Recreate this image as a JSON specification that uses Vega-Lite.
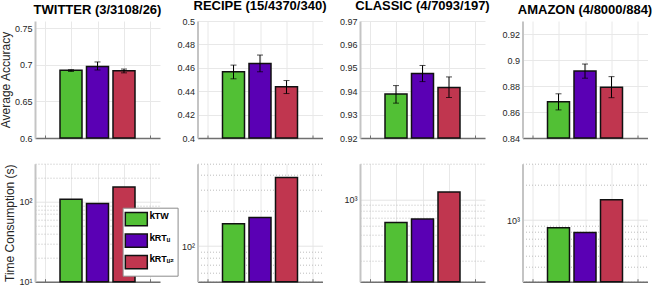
{
  "$schema": "https://vega.github.io/schema/vega-lite/v6.json",
  "padding": {"left": -1, "top": 0, "right": 0, "bottom": 0},
  "bounds": "flush",
  "columns": 4,
  "spacing": {"row": 25.7, "column": 37.5},
  "config": {
    "font": "Liberation Sans",
    "view": {"stroke": null},
    "title": {"font": "Liberation Sans", "fontSize": 13, "fontWeight": "bold", "color": "#000000", "offset": 0, "anchor": "middle"},
    "axis": {
      "labelFont": "Liberation Sans", "labelFontSize": 9, "labelColor": "#262626",
      "titleFont": "Liberation Sans", "titleFontSize": 12, "titleFontWeight": "normal", "titleColor": "#262626",
      "gridColor": "#e8e8e8", "gridWidth": 1
    },
    "axisY": {"domainColor": "#c4c4c4", "domainWidth": 2, "ticks": false, "labelPadding": 3, "titlePadding": 2, "grid": true, "labelOverlap": false, "labelFlush": false},
    "axisX": {"labels": false, "title": null, "domainColor": "#707070", "domainWidth": 1.5, "tickColor": "#707070", "tickSize": -3, "grid": true, "values": [0, 1, 2, 3, 4]},
    "bar": {"size": 22, "stroke": "#111111", "strokeWidth": 1.5}
  },
  "resolve": {"legend": {"color": "independent", "opacity": "independent"}},
  "datasets": {
    "acc": [
      {"dataset": "TWITTER", "method": "kTW", "x": 1, "mean": 0.6925, "lo": 0.6910, "hi": 0.6934},
      {"dataset": "TWITTER", "method": "kRTU", "x": 2, "mean": 0.6977, "lo": 0.6930, "hi": 0.7040},
      {"dataset": "TWITTER", "method": "kRTU2", "x": 3, "mean": 0.6921, "lo": 0.6891, "hi": 0.6943},
      {"dataset": "RECIPE", "method": "kTW", "x": 1, "mean": 0.4566, "lo": 0.4506, "hi": 0.4623},
      {"dataset": "RECIPE", "method": "kRTU", "x": 2, "mean": 0.4637, "lo": 0.4566, "hi": 0.4709},
      {"dataset": "RECIPE", "method": "kRTU2", "x": 3, "mean": 0.4437, "lo": 0.4380, "hi": 0.4491},
      {"dataset": "CLASSIC", "method": "kTW", "x": 1, "mean": 0.9388, "lo": 0.9349, "hi": 0.9424},
      {"dataset": "CLASSIC", "method": "kRTU", "x": 2, "mean": 0.9476, "lo": 0.9441, "hi": 0.9510},
      {"dataset": "CLASSIC", "method": "kRTU2", "x": 3, "mean": 0.9416, "lo": 0.9373, "hi": 0.9461},
      {"dataset": "AMAZON", "method": "kTW", "x": 1, "mean": 0.8679, "lo": 0.8616, "hi": 0.8740},
      {"dataset": "AMAZON", "method": "kRTU", "x": 2, "mean": 0.8916, "lo": 0.8860, "hi": 0.8969},
      {"dataset": "AMAZON", "method": "kRTU2", "x": 3, "mean": 0.8791, "lo": 0.8710, "hi": 0.8872}
    ],
    "time": [
      {"dataset": "TWITTER", "method": "kTW", "x": 1, "time": 108},
      {"dataset": "TWITTER", "method": "kRTU", "x": 2, "time": 95},
      {"dataset": "TWITTER", "method": "kRTU2", "x": 3, "time": 153},
      {"dataset": "RECIPE", "method": "kTW", "x": 1, "time": 155},
      {"dataset": "RECIPE", "method": "kRTU", "x": 2, "time": 175},
      {"dataset": "RECIPE", "method": "kRTU2", "x": 3, "time": 382},
      {"dataset": "CLASSIC", "method": "kTW", "x": 1, "time": 635},
      {"dataset": "CLASSIC", "method": "kRTU", "x": 2, "time": 681},
      {"dataset": "CLASSIC", "method": "kRTU2", "x": 3, "time": 1153},
      {"dataset": "AMAZON", "method": "kTW", "x": 1, "time": 861},
      {"dataset": "AMAZON", "method": "kRTU", "x": 2, "time": 785},
      {"dataset": "AMAZON", "method": "kRTU2", "x": 3, "time": 1486}
    ]
  },
  "concat": [
    {
      "width": 125, "height": 117,
      "title": "TWITTER (3/3108/26)",
      "data": {"name": "acc"},
      "transform": [{"filter": "datum.dataset === 'TWITTER'"}],
      "encoding": {
        "x": {"field": "x", "type": "quantitative", "scale": {"domain": [-0.17, 4.17]}}
      },
      "layer": [
        {"mark": "bar", "encoding": {
          "y": {"field": "mean", "type": "quantitative", "title": "Average Accuracy", "scale": {"domain": [0.6, 0.75], "zero": false}, "axis": {"values": [0.6, 0.65, 0.7, 0.75], "format": "~g"}},
          "y2": {"datum": 0.6},
          "color": {"field": "method", "type": "nominal", "scale": {"domain": ["kTW", "kRTU", "kRTU2"], "range": ["#52C035", "#5A00B4", "#C0364F"]}, "legend": null}
        }},
        {"mark": {"type": "errorbar", "ticks": {"size": 6}, "color": "#000000", "thickness": 1}, "encoding": {
          "y": {"field": "lo", "type": "quantitative", "title": "Average Accuracy", "axis": {"values": [0.6, 0.65, 0.7, 0.75], "format": "~g"}},
          "y2": {"field": "hi"}
        }}
      ]
    },
    {
      "width": 125, "height": 117,
      "title": "RECIPE (15/4370/340)",
      "data": {"name": "acc"},
      "transform": [{"filter": "datum.dataset === 'RECIPE'"}],
      "encoding": {
        "x": {"field": "x", "type": "quantitative", "scale": {"domain": [-0.17, 4.17]}}
      },
      "layer": [
        {"mark": "bar", "encoding": {
          "y": {"field": "mean", "type": "quantitative", "title": null, "scale": {"domain": [0.4, 0.5], "zero": false}, "axis": {"values": [0.4, 0.42, 0.44, 0.46, 0.48, 0.5], "format": "~g"}},
          "y2": {"datum": 0.4},
          "color": {"field": "method", "type": "nominal", "scale": {"domain": ["kTW", "kRTU", "kRTU2"], "range": ["#52C035", "#5A00B4", "#C0364F"]}, "legend": null}
        }},
        {"mark": {"type": "errorbar", "ticks": {"size": 6}, "color": "#000000", "thickness": 1}, "encoding": {
          "y": {"field": "lo", "type": "quantitative", "title": null, "axis": {"values": [0.4, 0.42, 0.44, 0.46, 0.48, 0.5], "format": "~g"}},
          "y2": {"field": "hi"}
        }}
      ]
    },
    {
      "width": 125, "height": 117,
      "title": "CLASSIC (4/7093/197)",
      "data": {"name": "acc"},
      "transform": [{"filter": "datum.dataset === 'CLASSIC'"}],
      "encoding": {
        "x": {"field": "x", "type": "quantitative", "scale": {"domain": [-0.17, 4.17]}}
      },
      "layer": [
        {"mark": "bar", "encoding": {
          "y": {"field": "mean", "type": "quantitative", "title": null, "scale": {"domain": [0.92, 0.97], "zero": false}, "axis": {"values": [0.92, 0.93, 0.94, 0.95, 0.96, 0.97], "format": "~g"}},
          "y2": {"datum": 0.92},
          "color": {"field": "method", "type": "nominal", "scale": {"domain": ["kTW", "kRTU", "kRTU2"], "range": ["#52C035", "#5A00B4", "#C0364F"]}, "legend": null}
        }},
        {"mark": {"type": "errorbar", "ticks": {"size": 6}, "color": "#000000", "thickness": 1}, "encoding": {
          "y": {"field": "lo", "type": "quantitative", "title": null, "axis": {"values": [0.92, 0.93, 0.94, 0.95, 0.96, 0.97], "format": "~g"}},
          "y2": {"field": "hi"}
        }}
      ]
    },
    {
      "width": 125, "height": 117,
      "title": "AMAZON (4/8000/884)",
      "data": {"name": "acc"},
      "transform": [{"filter": "datum.dataset === 'AMAZON'"}],
      "encoding": {
        "x": {"field": "x", "type": "quantitative", "scale": {"domain": [-0.17, 4.17]}}
      },
      "layer": [
        {"mark": "bar", "encoding": {
          "y": {"field": "mean", "type": "quantitative", "title": null, "scale": {"domain": [0.84, 0.93], "zero": false}, "axis": {"values": [0.84, 0.86, 0.88, 0.9, 0.92], "format": "~g"}},
          "y2": {"datum": 0.84},
          "color": {"field": "method", "type": "nominal", "scale": {"domain": ["kTW", "kRTU", "kRTU2"], "range": ["#52C035", "#5A00B4", "#C0364F"]}, "legend": null}
        }},
        {"mark": {"type": "errorbar", "ticks": {"size": 6}, "color": "#000000", "thickness": 1}, "encoding": {
          "y": {"field": "lo", "type": "quantitative", "title": null, "axis": {"values": [0.84, 0.86, 0.88, 0.9, 0.92], "format": "~g"}},
          "y2": {"field": "hi"}
        }}
      ]
    },
    {
      "width": 125, "height": 118,
      "data": {"name": "time"},
      "transform": [{"filter": "datum.dataset === 'TWITTER'"}],
      "mark": "bar",
      "encoding": {
        "x": {"field": "x", "type": "quantitative", "scale": {"domain": [-0.17, 4.17]}},
        "y": {"field": "time", "type": "quantitative", "title": "Time Consumption (s)",
          "scale": {"type": "log", "domain": [10, 300]},
          "axis": {"values": [10, 20, 30, 40, 50, 60, 70, 80, 90, 100, 200, 300],
            "labelExpr": "datum.value == 10 ? '10¹' : datum.value == 100 ? '10²' : datum.value == 1000 ? '10³' : ''",
            "gridDash": {"condition": {"test": "datum.value == 10 || datum.value == 100 || datum.value == 1000", "value": []}, "value": [1, 2]},
            "gridColor": {"condition": {"test": "datum.value == 10 || datum.value == 100 || datum.value == 1000", "value": "#e4e4e4"}, "value": "#bdbdbd"}}},
        "y2": {"datum": 10},
        "color": {"field": "method", "type": "nominal",
          "scale": {"domain": ["kTW", "kRTU", "kRTU2"], "range": ["#52C035", "#5A00B4", "#C0364F"]},
          "legend": {"orient": "none", "legendX": 87.6, "legendY": 44, "title": null, "padding": 3, "zindex": 2,
            "symbolType": "M-1.2,-0.9H1.8V0.9H-1.2Z", "symbolSize": 215, "symbolStrokeColor": "#111111", "symbolStrokeWidth": 1.5, "symbolOpacity": 1,
            "rowPadding": 0.5, "labelOffset": 6.9, "labelFontSize": 10, "labelFontWeight": "bold", "labelColor": "#000000", "labelBaseline": "alphabetic",
            "labelExpr": "'k'"}},
        "opacity": {"field": "method", "type": "nominal",
          "scale": {"domain": ["kTW", "kRTU", "kRTU2", "_a"], "range": [1, 1, 1, 1]},
          "legend": {"orient": "none", "legendX": 87.6, "legendY": 44, "title": null, "padding": 3, "zindex": 1, "values": ["kTW", "kRTU", "kRTU2"],
            "strokeColor": "#8c8c8c", "fillColor": "#ffffff",
            "symbolType": "M-1.2,-0.9H1.8V0.9H-1.2Z", "symbolSize": 215, "symbolFillColor": "transparent", "symbolStrokeColor": "transparent", "symbolStrokeWidth": 1.5,
            "rowPadding": 0.5, "labelOffset": 12.2, "labelFontSize": 9, "labelFontWeight": "bold", "labelColor": "#000000", "labelBaseline": "alphabetic",
            "labelExpr": "datum.value == 'kTW' ? 'TW' : datum.value == 'kRTU' ? 'RTᵤ' : 'RTᵤ₂'",
            "encode": {"labels": {"update": {"dy": {"value": 3.7}}}}}}
      }
    },
    {
      "width": 125, "height": 118,
      "data": {"name": "time"},
      "transform": [{"filter": "datum.dataset === 'RECIPE'"}],
      "mark": "bar",
      "encoding": {
        "x": {"field": "x", "type": "quantitative", "scale": {"domain": [-0.17, 4.17]}},
        "y": {"field": "time", "type": "quantitative", "title": null,
          "scale": {"type": "log", "domain": [50, 500]},
          "axis": {"values": [50, 60, 70, 80, 90, 100, 200, 300, 400, 500],
            "labelExpr": "datum.value == 10 ? '10¹' : datum.value == 100 ? '10²' : datum.value == 1000 ? '10³' : ''",
            "gridDash": {"condition": {"test": "datum.value == 10 || datum.value == 100 || datum.value == 1000", "value": []}, "value": [1, 2]},
            "gridColor": {"condition": {"test": "datum.value == 10 || datum.value == 100 || datum.value == 1000", "value": "#e4e4e4"}, "value": "#bdbdbd"}}},
        "y2": {"datum": 50},
        "color": {"field": "method", "type": "nominal", "scale": {"domain": ["kTW", "kRTU", "kRTU2"], "range": ["#52C035", "#5A00B4", "#C0364F"]}, "legend": null}
      }
    },
    {
      "width": 125, "height": 118,
      "data": {"name": "time"},
      "transform": [{"filter": "datum.dataset === 'CLASSIC'"}],
      "mark": "bar",
      "encoding": {
        "x": {"field": "x", "type": "quantitative", "scale": {"domain": [-0.17, 4.17]}},
        "y": {"field": "time", "type": "quantitative", "title": null,
          "scale": {"type": "log", "domain": [200, 2000]},
          "axis": {"values": [200, 300, 400, 500, 600, 700, 800, 900, 1000, 2000],
            "labelExpr": "datum.value == 10 ? '10¹' : datum.value == 100 ? '10²' : datum.value == 1000 ? '10³' : ''",
            "gridDash": {"condition": {"test": "datum.value == 10 || datum.value == 100 || datum.value == 1000", "value": []}, "value": [1, 2]},
            "gridColor": {"condition": {"test": "datum.value == 10 || datum.value == 100 || datum.value == 1000", "value": "#e4e4e4"}, "value": "#bdbdbd"}}},
        "y2": {"datum": 200},
        "color": {"field": "method", "type": "nominal", "scale": {"domain": ["kTW", "kRTU", "kRTU2"], "range": ["#52C035", "#5A00B4", "#C0364F"]}, "legend": null}
      }
    },
    {
      "width": 125, "height": 118,
      "data": {"name": "time"},
      "transform": [{"filter": "datum.dataset === 'AMAZON'"}],
      "mark": "bar",
      "encoding": {
        "x": {"field": "x", "type": "quantitative", "scale": {"domain": [-0.17, 4.17]}},
        "y": {"field": "time", "type": "quantitative", "title": null,
          "scale": {"type": "log", "domain": [300, 3000]},
          "axis": {"values": [300, 400, 500, 600, 700, 800, 900, 1000, 2000, 3000],
            "labelExpr": "datum.value == 10 ? '10¹' : datum.value == 100 ? '10²' : datum.value == 1000 ? '10³' : ''",
            "gridDash": {"condition": {"test": "datum.value == 10 || datum.value == 100 || datum.value == 1000", "value": []}, "value": [1, 2]},
            "gridColor": {"condition": {"test": "datum.value == 10 || datum.value == 100 || datum.value == 1000", "value": "#e4e4e4"}, "value": "#bdbdbd"}}},
        "y2": {"datum": 300},
        "color": {"field": "method", "type": "nominal", "scale": {"domain": ["kTW", "kRTU", "kRTU2"], "range": ["#52C035", "#5A00B4", "#C0364F"]}, "legend": null}
      }
    }
  ]
}
